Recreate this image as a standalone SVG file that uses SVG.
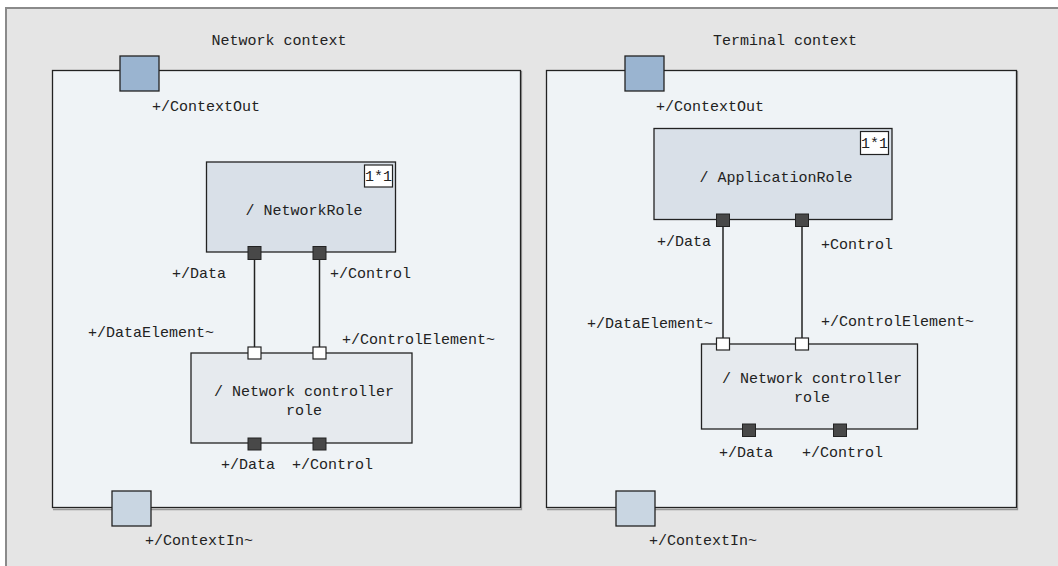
<svg xmlns="http://www.w3.org/2000/svg" width="1058" height="566" viewBox="0 0 1058 566">
<style>
text{font-family:"Liberation Mono","Courier New",monospace;font-size:15px;fill:#222}
.mid{text-anchor:middle}
.ctx{fill:#eff3f6;stroke:#222;stroke-width:1.3}
.shadow{fill:none;stroke:#999;stroke-width:1.3}
.part{stroke:#222;stroke-width:1.3}
.pout{fill:#9ab4d0;stroke:#222;stroke-width:1.3}
.pin{fill:#c9d6e2;stroke:#222;stroke-width:1.3}
.pd{fill:#484848;stroke:#222;stroke-width:1}
.pw{fill:#fff;stroke:#222;stroke-width:1.2}
.mult{fill:#fff;stroke:#222;stroke-width:1.2}
.conn{stroke:#222;stroke-width:1.5;fill:none}
</style>
<rect x="6" y="8" width="1060" height="570" fill="#e5e5e5" stroke="#8a8a8a" stroke-width="2"/>

<g id="network-context">
<text x="279" y="45" class="mid">Network context</text>
<polyline class="shadow" points="521.5,71 521.5,509.5 53,509.5"/>
<rect class="ctx" x="52.5" y="70.5" width="468" height="437"/>
</g>
<g id="terminal-context">
<text x="785" y="45" class="mid">Terminal context</text>
<polyline class="shadow" points="1017.5,71 1017.5,509.5 547,509.5"/>
<rect class="ctx" x="546.5" y="70.5" width="470" height="437"/>
</g>

<g id="connectors">
<line class="conn" x1="254.5" y1="259" x2="254.5" y2="347"/>
<line class="conn" x1="319.5" y1="259" x2="319.5" y2="347"/>
<line class="conn" x1="723" y1="226" x2="723" y2="338"/>
<line class="conn" x1="802" y1="226" x2="802" y2="338"/>
</g>

<g id="nc-contextout">
<rect class="pout" x="120" y="56" width="39" height="35"/>
<text x="152" y="111">+/ContextOut</text>
</g>
<g id="nc-contextin">
<rect class="pin" x="112" y="491" width="39" height="35"/>
<text x="145" y="545">+/ContextIn~</text>
</g>

<g id="network-role">
<rect class="part" fill="#d9e0e8" x="206.5" y="162" width="189" height="90"/>
<rect class="mult" x="364.5" y="165" width="28" height="22"/>
<text x="378.5" y="181" class="mid">1*1</text>
<text x="304" y="215" class="mid">/ NetworkRole</text>
<rect class="pd" x="248" y="246.5" width="13" height="13"/>
<rect class="pd" x="313" y="246.5" width="13" height="13"/>
<text x="172" y="278">+/Data</text>
<text x="330" y="278">+/Control</text>
</g>

<g id="nc-controller-role">
<rect class="part" fill="#e6eaee" x="191" y="353" width="221" height="90"/>
<text x="304" y="396" class="mid">/ Network controller</text>
<text x="304" y="415" class="mid">role</text>
<rect class="pw" x="248" y="347" width="13" height="12"/>
<rect class="pw" x="313" y="347" width="13" height="12"/>
<rect class="pd" x="248" y="438" width="13" height="12"/>
<rect class="pd" x="313" y="438" width="13" height="12"/>
<text x="88" y="337">+/DataElement~</text>
<text x="342" y="344">+/ControlElement~</text>
<text x="221" y="469">+/Data</text>
<text x="292" y="469">+/Control</text>
</g>

<g id="tc-contextout">
<rect class="pout" x="625" y="56" width="39" height="35"/>
<text x="656" y="111">+/ContextOut</text>
</g>
<g id="tc-contextin">
<rect class="pin" x="616" y="491" width="39" height="35"/>
<text x="649" y="545">+/ContextIn~</text>
</g>

<g id="application-role">
<rect class="part" fill="#d9e0e8" x="654" y="128.5" width="238" height="91"/>
<rect class="mult" x="860.5" y="131.5" width="28" height="23"/>
<text x="874.5" y="148" class="mid">1*1</text>
<text x="776" y="182" class="mid">/ ApplicationRole</text>
<rect class="pd" x="716.5" y="214" width="13" height="12.5"/>
<rect class="pd" x="795.5" y="214" width="13" height="12.5"/>
<text x="657" y="246">+/Data</text>
<text x="821" y="249">+Control</text>
</g>

<g id="tc-controller-role">
<rect class="part" fill="#e6eaee" x="701.5" y="344" width="216" height="85"/>
<text x="812" y="383" class="mid">/ Network controller</text>
<text x="812" y="402" class="mid">role</text>
<rect class="pw" x="716.5" y="338" width="13" height="12"/>
<rect class="pw" x="795.5" y="338" width="13" height="12"/>
<rect class="pd" x="742.5" y="424" width="13" height="12.5"/>
<rect class="pd" x="833.5" y="424" width="13" height="12.5"/>
<text x="587" y="328">+/DataElement~</text>
<text x="821" y="326">+/ControlElement~</text>
<text x="719" y="457">+/Data</text>
<text x="802" y="457">+/Control</text>
</g>
</svg>
